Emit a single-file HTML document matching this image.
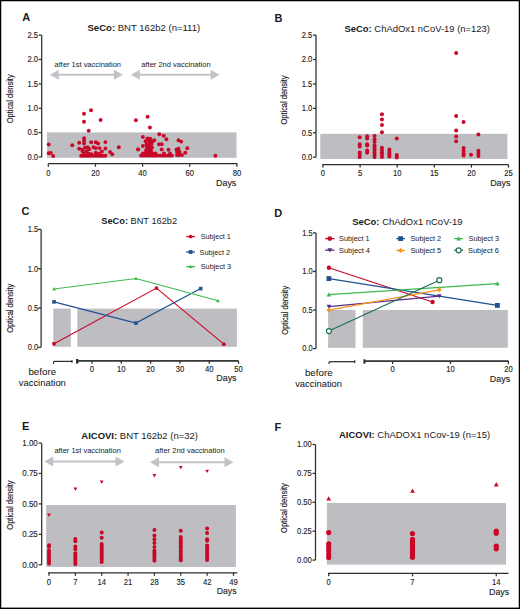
<!DOCTYPE html>
<html><head><meta charset="utf-8"><style>
html,body{margin:0;padding:0;background:#fff;}
body{width:520px;height:609px;overflow:hidden;position:relative;}
svg{position:absolute;left:0;top:0;font-family:"Liberation Sans", sans-serif;}
</style></head><body>
<svg width="520" height="609" viewBox="0 0 520 609">
<rect x="0" y="0" width="520" height="609" fill="#fff"/>
<text x="22.3" y="21.3" font-size="11" text-anchor="start" font-weight="bold" fill="#1a1a1a">A</text>
<text x="87.5" y="30.9" font-size="9.6" fill="#1a1a1a" textLength="112.7" lengthAdjust="spacingAndGlyphs"><tspan font-weight="bold">SeCo:</tspan> BNT 162b2 (n=111)</text>
<line x1="41.7" y1="35" x2="41.7" y2="157.2" stroke="#2e2e2e" stroke-width="1.25"/>
<line x1="38.7" y1="157.0" x2="41.7" y2="157.0" stroke="#2e2e2e" stroke-width="1.25"/>
<text x="38.0" y="159.8" font-size="8.7" text-anchor="end" font-weight="normal" fill="#1a1a1a" textLength="10.6" lengthAdjust="spacingAndGlyphs" stroke="#1a1a1a" stroke-width="0.12">0.0</text>
<line x1="38.7" y1="132.62" x2="41.7" y2="132.62" stroke="#2e2e2e" stroke-width="1.25"/>
<text x="38.0" y="135.42000000000002" font-size="8.7" text-anchor="end" font-weight="normal" fill="#1a1a1a" textLength="10.6" lengthAdjust="spacingAndGlyphs" stroke="#1a1a1a" stroke-width="0.12">0.5</text>
<line x1="38.7" y1="108.24000000000001" x2="41.7" y2="108.24000000000001" stroke="#2e2e2e" stroke-width="1.25"/>
<text x="38.0" y="111.04" font-size="8.7" text-anchor="end" font-weight="normal" fill="#1a1a1a" textLength="10.6" lengthAdjust="spacingAndGlyphs" stroke="#1a1a1a" stroke-width="0.12">1.0</text>
<line x1="38.7" y1="83.86" x2="41.7" y2="83.86" stroke="#2e2e2e" stroke-width="1.25"/>
<text x="38.0" y="86.66" font-size="8.7" text-anchor="end" font-weight="normal" fill="#1a1a1a" textLength="10.6" lengthAdjust="spacingAndGlyphs" stroke="#1a1a1a" stroke-width="0.12">1.5</text>
<line x1="38.7" y1="59.480000000000004" x2="41.7" y2="59.480000000000004" stroke="#2e2e2e" stroke-width="1.25"/>
<text x="38.0" y="62.28" font-size="8.7" text-anchor="end" font-weight="normal" fill="#1a1a1a" textLength="10.6" lengthAdjust="spacingAndGlyphs" stroke="#1a1a1a" stroke-width="0.12">2.0</text>
<line x1="38.7" y1="35.10000000000001" x2="41.7" y2="35.10000000000001" stroke="#2e2e2e" stroke-width="1.25"/>
<text x="38.0" y="37.900000000000006" font-size="8.7" text-anchor="end" font-weight="normal" fill="#1a1a1a" textLength="10.6" lengthAdjust="spacingAndGlyphs" stroke="#1a1a1a" stroke-width="0.12">2.5</text>
<text x="0" y="0" font-size="9.0" fill="#1a1a1a" text-anchor="middle" textLength="48.9" lengthAdjust="spacingAndGlyphs" stroke="#1a1a1a" stroke-width="0.15" transform="translate(13.0,98.85) rotate(-90)">Optical density</text>
<rect x="47" y="132.4" width="189.50" height="25.40" fill="#bebec2"/>
<line x1="48.3" y1="163.7" x2="237.3" y2="163.7" stroke="#2e2e2e" stroke-width="1.25"/>
<line x1="48.3" y1="163.7" x2="48.3" y2="166.7" stroke="#2e2e2e" stroke-width="1.25"/>
<text x="48.3" y="175.8" font-size="8.9" text-anchor="middle" font-weight="normal" fill="#1a1a1a" textLength="4.26" lengthAdjust="spacingAndGlyphs" stroke="#1a1a1a" stroke-width="0.12">0</text>
<line x1="95.44999999999999" y1="163.7" x2="95.44999999999999" y2="166.7" stroke="#2e2e2e" stroke-width="1.25"/>
<text x="95.44999999999999" y="175.8" font-size="8.9" text-anchor="middle" font-weight="normal" fill="#1a1a1a" textLength="8.51" lengthAdjust="spacingAndGlyphs" stroke="#1a1a1a" stroke-width="0.12">20</text>
<line x1="142.6" y1="163.7" x2="142.6" y2="166.7" stroke="#2e2e2e" stroke-width="1.25"/>
<text x="142.6" y="175.8" font-size="8.9" text-anchor="middle" font-weight="normal" fill="#1a1a1a" textLength="8.51" lengthAdjust="spacingAndGlyphs" stroke="#1a1a1a" stroke-width="0.12">40</text>
<line x1="189.75" y1="163.7" x2="189.75" y2="166.7" stroke="#2e2e2e" stroke-width="1.25"/>
<text x="189.75" y="175.8" font-size="8.9" text-anchor="middle" font-weight="normal" fill="#1a1a1a" textLength="8.51" lengthAdjust="spacingAndGlyphs" stroke="#1a1a1a" stroke-width="0.12">60</text>
<line x1="236.89999999999998" y1="163.7" x2="236.89999999999998" y2="166.7" stroke="#2e2e2e" stroke-width="1.25"/>
<text x="236.89999999999998" y="175.8" font-size="8.9" text-anchor="middle" font-weight="normal" fill="#1a1a1a" textLength="8.51" lengthAdjust="spacingAndGlyphs" stroke="#1a1a1a" stroke-width="0.12">80</text>
<text x="236.3" y="185.8" font-size="9.9" text-anchor="end" font-weight="normal" fill="#1a1a1a" textLength="20.3" lengthAdjust="spacingAndGlyphs" stroke="#1a1a1a" stroke-width="0.12">Days</text>
<text x="54.6" y="66.5" font-size="7.4" text-anchor="start" font-weight="normal" fill="#1a1a1a" textLength="66.4" lengthAdjust="spacingAndGlyphs">after 1st vaccination</text>
<path d="M49.8,74.8L58.8,69.8L58.8,73.8L113.9,73.8L113.9,69.8L122.9,74.8L113.9,79.8L113.9,75.8L58.8,75.8L58.8,79.8Z" fill="#c2c2c8"/>
<text x="141.3" y="66.5" font-size="7.4" text-anchor="start" font-weight="normal" fill="#1a1a1a" textLength="69.3" lengthAdjust="spacingAndGlyphs">after 2nd vaccination</text>
<path d="M130.8,74.8L139.8,69.8L139.8,73.8L210.6,73.8L210.6,69.8L219.6,74.8L210.6,79.8L210.6,75.8L139.8,75.8L139.8,79.8Z" fill="#c2c2c8"/>
<circle cx="91.00" cy="110.20" r="1.95" fill="#c90828"/>
<circle cx="84.00" cy="113.80" r="1.95" fill="#c90828"/>
<circle cx="84.00" cy="121.70" r="1.95" fill="#c90828"/>
<circle cx="100.60" cy="120.00" r="1.95" fill="#c90828"/>
<circle cx="135.90" cy="120.20" r="1.95" fill="#c90828"/>
<circle cx="147.60" cy="116.80" r="1.95" fill="#c90828"/>
<circle cx="149.90" cy="127.50" r="1.95" fill="#c90828"/>
<circle cx="88.70" cy="130.80" r="1.95" fill="#c90828"/>
<circle cx="48.70" cy="144.50" r="1.95" fill="#c90828"/>
<circle cx="48.70" cy="153.30" r="1.95" fill="#c90828"/>
<circle cx="50.80" cy="152.90" r="1.95" fill="#c90828"/>
<circle cx="53.20" cy="156.00" r="1.95" fill="#c90828"/>
<circle cx="72.30" cy="145.20" r="1.95" fill="#c90828"/>
<circle cx="84.10" cy="138.20" r="1.95" fill="#c90828"/>
<circle cx="84.10" cy="140.80" r="1.95" fill="#c90828"/>
<circle cx="84.10" cy="143.50" r="1.95" fill="#c90828"/>
<circle cx="79.20" cy="142.70" r="1.95" fill="#c90828"/>
<circle cx="91.20" cy="142.30" r="1.95" fill="#c90828"/>
<circle cx="95.80" cy="142.30" r="1.95" fill="#c90828"/>
<circle cx="98.10" cy="143.50" r="1.95" fill="#c90828"/>
<circle cx="105.40" cy="142.10" r="1.95" fill="#c90828"/>
<circle cx="79.20" cy="148.80" r="1.95" fill="#c90828"/>
<circle cx="82.30" cy="149.60" r="1.95" fill="#c90828"/>
<circle cx="85.00" cy="147.70" r="1.95" fill="#c90828"/>
<circle cx="87.70" cy="147.30" r="1.95" fill="#c90828"/>
<circle cx="89.20" cy="149.20" r="1.95" fill="#c90828"/>
<circle cx="93.50" cy="147.30" r="1.95" fill="#c90828"/>
<circle cx="95.80" cy="148.10" r="1.95" fill="#c90828"/>
<circle cx="99.60" cy="148.10" r="1.95" fill="#c90828"/>
<circle cx="105.40" cy="148.50" r="1.95" fill="#c90828"/>
<circle cx="101.90" cy="151.50" r="1.95" fill="#c90828"/>
<circle cx="110.00" cy="151.90" r="1.95" fill="#c90828"/>
<circle cx="112.30" cy="154.20" r="1.95" fill="#c90828"/>
<circle cx="95.80" cy="152.70" r="1.95" fill="#c90828"/>
<circle cx="82.70" cy="151.50" r="1.95" fill="#c90828"/>
<circle cx="86.50" cy="151.50" r="1.95" fill="#c90828"/>
<circle cx="118.80" cy="147.30" r="1.95" fill="#c90828"/>
<circle cx="138.00" cy="149.40" r="1.95" fill="#c90828"/>
<circle cx="215.40" cy="155.80" r="1.95" fill="#c90828"/>
<circle cx="159.30" cy="134.30" r="1.95" fill="#c90828"/>
<circle cx="163.70" cy="135.70" r="1.95" fill="#c90828"/>
<circle cx="166.40" cy="139.30" r="1.95" fill="#c90828"/>
<circle cx="142.90" cy="136.90" r="1.95" fill="#c90828"/>
<circle cx="150.30" cy="138.60" r="1.95" fill="#c90828"/>
<circle cx="154.30" cy="140.30" r="1.95" fill="#c90828"/>
<circle cx="145.60" cy="141.30" r="1.95" fill="#c90828"/>
<circle cx="148.90" cy="141.10" r="1.95" fill="#c90828"/>
<circle cx="159.00" cy="144.30" r="1.95" fill="#c90828"/>
<circle cx="161.70" cy="144.30" r="1.95" fill="#c90828"/>
<circle cx="142.90" cy="146.00" r="1.95" fill="#c90828"/>
<circle cx="138.20" cy="149.40" r="1.95" fill="#c90828"/>
<circle cx="161.70" cy="149.40" r="1.95" fill="#c90828"/>
<circle cx="168.50" cy="149.80" r="1.95" fill="#c90828"/>
<circle cx="178.50" cy="140.30" r="1.95" fill="#c90828"/>
<circle cx="181.20" cy="141.60" r="1.95" fill="#c90828"/>
<circle cx="178.50" cy="148.70" r="1.95" fill="#c90828"/>
<circle cx="187.30" cy="148.30" r="1.95" fill="#c90828"/>
<circle cx="185.30" cy="152.80" r="1.95" fill="#c90828"/>
<circle cx="81.20" cy="155.80" r="1.95" fill="#c90828"/>
<circle cx="83.50" cy="155.80" r="1.95" fill="#c90828"/>
<circle cx="85.80" cy="155.80" r="1.95" fill="#c90828"/>
<circle cx="88.10" cy="155.80" r="1.95" fill="#c90828"/>
<circle cx="90.40" cy="155.80" r="1.95" fill="#c90828"/>
<circle cx="93.00" cy="155.80" r="1.95" fill="#c90828"/>
<circle cx="95.80" cy="155.80" r="1.95" fill="#c90828"/>
<circle cx="98.10" cy="155.80" r="1.95" fill="#c90828"/>
<circle cx="100.40" cy="155.80" r="1.95" fill="#c90828"/>
<circle cx="102.70" cy="155.80" r="1.95" fill="#c90828"/>
<circle cx="105.40" cy="155.80" r="1.95" fill="#c90828"/>
<circle cx="84.50" cy="153.60" r="1.95" fill="#c90828"/>
<circle cx="88.80" cy="153.80" r="1.95" fill="#c90828"/>
<circle cx="99.20" cy="153.80" r="1.95" fill="#c90828"/>
<circle cx="91.50" cy="154.20" r="1.95" fill="#c90828"/>
<circle cx="141.00" cy="155.60" r="1.95" fill="#c90828"/>
<circle cx="143.20" cy="155.60" r="1.95" fill="#c90828"/>
<circle cx="145.40" cy="155.60" r="1.95" fill="#c90828"/>
<circle cx="147.60" cy="155.60" r="1.95" fill="#c90828"/>
<circle cx="149.80" cy="155.60" r="1.95" fill="#c90828"/>
<circle cx="152.00" cy="155.60" r="1.95" fill="#c90828"/>
<circle cx="154.20" cy="155.60" r="1.95" fill="#c90828"/>
<circle cx="156.40" cy="155.60" r="1.95" fill="#c90828"/>
<circle cx="158.60" cy="155.60" r="1.95" fill="#c90828"/>
<circle cx="160.80" cy="155.60" r="1.95" fill="#c90828"/>
<circle cx="163.00" cy="155.60" r="1.95" fill="#c90828"/>
<circle cx="165.20" cy="155.60" r="1.95" fill="#c90828"/>
<circle cx="167.40" cy="155.60" r="1.95" fill="#c90828"/>
<circle cx="169.60" cy="155.60" r="1.95" fill="#c90828"/>
<circle cx="172.00" cy="155.60" r="1.95" fill="#c90828"/>
<circle cx="143.00" cy="153.40" r="1.95" fill="#c90828"/>
<circle cx="145.50" cy="153.40" r="1.95" fill="#c90828"/>
<circle cx="148.00" cy="153.40" r="1.95" fill="#c90828"/>
<circle cx="150.50" cy="153.40" r="1.95" fill="#c90828"/>
<circle cx="153.00" cy="153.40" r="1.95" fill="#c90828"/>
<circle cx="155.50" cy="153.40" r="1.95" fill="#c90828"/>
<circle cx="164.00" cy="153.40" r="1.95" fill="#c90828"/>
<circle cx="170.00" cy="153.40" r="1.95" fill="#c90828"/>
<circle cx="146.00" cy="150.50" r="1.95" fill="#c90828"/>
<circle cx="148.50" cy="150.50" r="1.95" fill="#c90828"/>
<circle cx="151.00" cy="150.50" r="1.95" fill="#c90828"/>
<circle cx="147.00" cy="147.50" r="1.95" fill="#c90828"/>
<circle cx="149.50" cy="147.50" r="1.95" fill="#c90828"/>
<circle cx="152.00" cy="147.50" r="1.95" fill="#c90828"/>
<circle cx="146.50" cy="144.50" r="1.95" fill="#c90828"/>
<circle cx="149.00" cy="144.50" r="1.95" fill="#c90828"/>
<circle cx="151.50" cy="144.00" r="1.95" fill="#c90828"/>
<circle cx="150.00" cy="141.50" r="1.95" fill="#c90828"/>
<circle cx="152.50" cy="141.50" r="1.95" fill="#c90828"/>
<circle cx="147.50" cy="138.50" r="1.95" fill="#c90828"/>
<circle cx="177.00" cy="152.00" r="1.95" fill="#c90828"/>
<circle cx="179.50" cy="152.00" r="1.95" fill="#c90828"/>
<circle cx="177.00" cy="155.00" r="1.95" fill="#c90828"/>
<circle cx="179.50" cy="155.00" r="1.95" fill="#c90828"/>
<circle cx="182.00" cy="155.00" r="1.95" fill="#c90828"/>
<circle cx="176.50" cy="149.50" r="1.95" fill="#c90828"/>
<text x="274.4" y="21.5" font-size="11" text-anchor="start" font-weight="bold" fill="#1a1a1a">B</text>
<text x="344.5" y="32.2" font-size="9.6" fill="#1a1a1a" textLength="145.4" lengthAdjust="spacingAndGlyphs"><tspan font-weight="bold">SeCo:</tspan> ChAdOx1 nCoV-19 (n=123)</text>
<line x1="316.0" y1="35" x2="316.0" y2="157.2" stroke="#2e2e2e" stroke-width="1.25"/>
<line x1="313.0" y1="157.2" x2="316.0" y2="157.2" stroke="#2e2e2e" stroke-width="1.25"/>
<text x="312.3" y="160.0" font-size="8.7" text-anchor="end" font-weight="normal" fill="#1a1a1a" textLength="10.6" lengthAdjust="spacingAndGlyphs" stroke="#1a1a1a" stroke-width="0.12">0.0</text>
<line x1="313.0" y1="132.77999999999997" x2="316.0" y2="132.77999999999997" stroke="#2e2e2e" stroke-width="1.25"/>
<text x="312.3" y="135.57999999999998" font-size="8.7" text-anchor="end" font-weight="normal" fill="#1a1a1a" textLength="10.6" lengthAdjust="spacingAndGlyphs" stroke="#1a1a1a" stroke-width="0.12">0.5</text>
<line x1="313.0" y1="108.35999999999999" x2="316.0" y2="108.35999999999999" stroke="#2e2e2e" stroke-width="1.25"/>
<text x="312.3" y="111.15999999999998" font-size="8.7" text-anchor="end" font-weight="normal" fill="#1a1a1a" textLength="10.6" lengthAdjust="spacingAndGlyphs" stroke="#1a1a1a" stroke-width="0.12">1.0</text>
<line x1="313.0" y1="83.93999999999998" x2="316.0" y2="83.93999999999998" stroke="#2e2e2e" stroke-width="1.25"/>
<text x="312.3" y="86.73999999999998" font-size="8.7" text-anchor="end" font-weight="normal" fill="#1a1a1a" textLength="10.6" lengthAdjust="spacingAndGlyphs" stroke="#1a1a1a" stroke-width="0.12">1.5</text>
<line x1="313.0" y1="59.51999999999998" x2="316.0" y2="59.51999999999998" stroke="#2e2e2e" stroke-width="1.25"/>
<text x="312.3" y="62.31999999999998" font-size="8.7" text-anchor="end" font-weight="normal" fill="#1a1a1a" textLength="10.6" lengthAdjust="spacingAndGlyphs" stroke="#1a1a1a" stroke-width="0.12">2.0</text>
<line x1="313.0" y1="35.09999999999998" x2="316.0" y2="35.09999999999998" stroke="#2e2e2e" stroke-width="1.25"/>
<text x="312.3" y="37.89999999999998" font-size="8.7" text-anchor="end" font-weight="normal" fill="#1a1a1a" textLength="10.6" lengthAdjust="spacingAndGlyphs" stroke="#1a1a1a" stroke-width="0.12">2.5</text>
<text x="0" y="0" font-size="9.0" fill="#1a1a1a" text-anchor="middle" textLength="49.1" lengthAdjust="spacingAndGlyphs" stroke="#1a1a1a" stroke-width="0.15" transform="translate(287.0,100.05) rotate(-90)">Optical density</text>
<rect x="320.3" y="133.8" width="187.10" height="25.20" fill="#bebec2"/>
<line x1="322.4" y1="164.6" x2="508.5" y2="164.6" stroke="#2e2e2e" stroke-width="1.25"/>
<line x1="323.0" y1="164.6" x2="323.0" y2="167.6" stroke="#2e2e2e" stroke-width="1.25"/>
<text x="323.0" y="176.0" font-size="8.9" text-anchor="middle" font-weight="normal" fill="#1a1a1a" textLength="4.26" lengthAdjust="spacingAndGlyphs" stroke="#1a1a1a" stroke-width="0.12">0</text>
<line x1="360.1" y1="164.6" x2="360.1" y2="167.6" stroke="#2e2e2e" stroke-width="1.25"/>
<text x="360.1" y="176.0" font-size="8.9" text-anchor="middle" font-weight="normal" fill="#1a1a1a" textLength="4.26" lengthAdjust="spacingAndGlyphs" stroke="#1a1a1a" stroke-width="0.12">5</text>
<line x1="397.2" y1="164.6" x2="397.2" y2="167.6" stroke="#2e2e2e" stroke-width="1.25"/>
<text x="397.2" y="176.0" font-size="8.9" text-anchor="middle" font-weight="normal" fill="#1a1a1a" textLength="8.51" lengthAdjust="spacingAndGlyphs" stroke="#1a1a1a" stroke-width="0.12">10</text>
<line x1="434.3" y1="164.6" x2="434.3" y2="167.6" stroke="#2e2e2e" stroke-width="1.25"/>
<text x="434.3" y="176.0" font-size="8.9" text-anchor="middle" font-weight="normal" fill="#1a1a1a" textLength="8.51" lengthAdjust="spacingAndGlyphs" stroke="#1a1a1a" stroke-width="0.12">15</text>
<line x1="471.4" y1="164.6" x2="471.4" y2="167.6" stroke="#2e2e2e" stroke-width="1.25"/>
<text x="471.4" y="176.0" font-size="8.9" text-anchor="middle" font-weight="normal" fill="#1a1a1a" textLength="8.51" lengthAdjust="spacingAndGlyphs" stroke="#1a1a1a" stroke-width="0.12">20</text>
<line x1="508.5" y1="164.6" x2="508.5" y2="167.6" stroke="#2e2e2e" stroke-width="1.25"/>
<text x="508.5" y="176.0" font-size="8.9" text-anchor="middle" font-weight="normal" fill="#1a1a1a" textLength="8.51" lengthAdjust="spacingAndGlyphs" stroke="#1a1a1a" stroke-width="0.12">25</text>
<text x="510.5" y="186.2" font-size="9.9" text-anchor="end" font-weight="normal" fill="#1a1a1a" textLength="20.3" lengthAdjust="spacingAndGlyphs" stroke="#1a1a1a" stroke-width="0.12">Days</text>
<circle cx="359.70" cy="137.30" r="2.0" fill="#c90828"/>
<circle cx="359.70" cy="144.30" r="2.0" fill="#c90828"/>
<circle cx="359.70" cy="146.60" r="2.0" fill="#c90828"/>
<circle cx="359.70" cy="152.40" r="2.0" fill="#c90828"/>
<circle cx="359.70" cy="154.70" r="2.0" fill="#c90828"/>
<circle cx="359.70" cy="157.00" r="2.0" fill="#c90828"/>
<circle cx="367.12" cy="136.20" r="2.0" fill="#c90828"/>
<circle cx="367.12" cy="138.50" r="2.0" fill="#c90828"/>
<circle cx="367.12" cy="144.30" r="2.0" fill="#c90828"/>
<circle cx="367.12" cy="145.40" r="2.0" fill="#c90828"/>
<circle cx="367.12" cy="150.50" r="2.0" fill="#c90828"/>
<circle cx="367.12" cy="152.80" r="2.0" fill="#c90828"/>
<circle cx="374.54" cy="136.00" r="2.0" fill="#c90828"/>
<circle cx="374.54" cy="139.60" r="2.0" fill="#c90828"/>
<circle cx="374.54" cy="142.00" r="2.0" fill="#c90828"/>
<circle cx="374.54" cy="145.40" r="2.0" fill="#c90828"/>
<circle cx="374.54" cy="147.70" r="2.0" fill="#c90828"/>
<circle cx="374.54" cy="150.00" r="2.0" fill="#c90828"/>
<circle cx="374.54" cy="152.40" r="2.0" fill="#c90828"/>
<circle cx="374.54" cy="154.70" r="2.0" fill="#c90828"/>
<circle cx="374.54" cy="157.00" r="2.0" fill="#c90828"/>
<circle cx="381.96" cy="114.20" r="2.0" fill="#c90828"/>
<circle cx="381.96" cy="119.60" r="2.0" fill="#c90828"/>
<circle cx="381.96" cy="125.10" r="2.0" fill="#c90828"/>
<circle cx="381.96" cy="132.30" r="2.0" fill="#c90828"/>
<circle cx="381.96" cy="147.70" r="2.0" fill="#c90828"/>
<circle cx="381.96" cy="150.00" r="2.0" fill="#c90828"/>
<circle cx="381.96" cy="152.40" r="2.0" fill="#c90828"/>
<circle cx="381.96" cy="154.70" r="2.0" fill="#c90828"/>
<circle cx="381.96" cy="157.00" r="2.0" fill="#c90828"/>
<circle cx="389.38" cy="149.60" r="2.0" fill="#c90828"/>
<circle cx="389.38" cy="151.90" r="2.0" fill="#c90828"/>
<circle cx="389.38" cy="154.20" r="2.0" fill="#c90828"/>
<circle cx="389.38" cy="156.50" r="2.0" fill="#c90828"/>
<circle cx="396.80" cy="138.50" r="2.0" fill="#c90828"/>
<circle cx="396.80" cy="155.10" r="2.0" fill="#c90828"/>
<circle cx="396.80" cy="157.40" r="2.0" fill="#c90828"/>
<circle cx="456.16" cy="53.10" r="2.0" fill="#c90828"/>
<circle cx="456.16" cy="116.10" r="2.0" fill="#c90828"/>
<circle cx="456.16" cy="130.60" r="2.0" fill="#c90828"/>
<circle cx="456.16" cy="136.60" r="2.0" fill="#c90828"/>
<circle cx="456.16" cy="141.30" r="2.0" fill="#c90828"/>
<circle cx="463.58" cy="121.90" r="2.0" fill="#c90828"/>
<circle cx="463.58" cy="148.10" r="2.0" fill="#c90828"/>
<circle cx="463.58" cy="150.80" r="2.0" fill="#c90828"/>
<circle cx="463.58" cy="153.40" r="2.0" fill="#c90828"/>
<circle cx="463.58" cy="155.50" r="2.0" fill="#c90828"/>
<circle cx="471.00" cy="154.70" r="2.0" fill="#c90828"/>
<circle cx="478.42" cy="134.50" r="2.0" fill="#c90828"/>
<circle cx="478.42" cy="150.80" r="2.0" fill="#c90828"/>
<circle cx="478.42" cy="153.40" r="2.0" fill="#c90828"/>
<circle cx="478.42" cy="156.00" r="2.0" fill="#c90828"/>
<text x="21.5" y="215" font-size="11" text-anchor="start" font-weight="bold" fill="#1a1a1a">C</text>
<text x="101.3" y="223.6" font-size="9.6" fill="#1a1a1a" textLength="75.8" lengthAdjust="spacingAndGlyphs"><tspan font-weight="bold">SeCo:</tspan> BNT 162b2</text>
<line x1="41.1" y1="229.4" x2="41.1" y2="347.3" stroke="#2e2e2e" stroke-width="1.25"/>
<line x1="38.1" y1="347.3" x2="41.1" y2="347.3" stroke="#2e2e2e" stroke-width="1.25"/>
<text x="38.2" y="350.1" font-size="8.7" text-anchor="end" font-weight="normal" fill="#1a1a1a" textLength="10.4" lengthAdjust="spacingAndGlyphs" stroke="#1a1a1a" stroke-width="0.12">0.0</text>
<line x1="38.1" y1="308.0" x2="41.1" y2="308.0" stroke="#2e2e2e" stroke-width="1.25"/>
<text x="38.2" y="310.8" font-size="8.7" text-anchor="end" font-weight="normal" fill="#1a1a1a" textLength="10.4" lengthAdjust="spacingAndGlyphs" stroke="#1a1a1a" stroke-width="0.12">0.5</text>
<line x1="38.1" y1="268.70000000000005" x2="41.1" y2="268.70000000000005" stroke="#2e2e2e" stroke-width="1.25"/>
<text x="38.2" y="271.50000000000006" font-size="8.7" text-anchor="end" font-weight="normal" fill="#1a1a1a" textLength="10.4" lengthAdjust="spacingAndGlyphs" stroke="#1a1a1a" stroke-width="0.12">1.0</text>
<line x1="38.1" y1="229.40000000000003" x2="41.1" y2="229.40000000000003" stroke="#2e2e2e" stroke-width="1.25"/>
<text x="38.2" y="232.20000000000005" font-size="8.7" text-anchor="end" font-weight="normal" fill="#1a1a1a" textLength="10.4" lengthAdjust="spacingAndGlyphs" stroke="#1a1a1a" stroke-width="0.12">1.5</text>
<text x="0" y="0" font-size="9.0" fill="#1a1a1a" text-anchor="middle" textLength="49.0" lengthAdjust="spacingAndGlyphs" stroke="#1a1a1a" stroke-width="0.15" transform="translate(12.6,308.3) rotate(-90)">Optical density</text>
<rect x="53.3" y="308.6" width="17.50" height="38.20" fill="#bebec2"/>
<rect x="77.3" y="308.6" width="159.60" height="38.20" fill="#bebec2"/>
<line x1="53.6" y1="361.4" x2="72.0" y2="361.4" stroke="#2e2e2e" stroke-width="1.25"/>
<line x1="53.6" y1="361.4" x2="53.6" y2="363.8" stroke="#2e2e2e" stroke-width="1.25"/>
<line x1="72.0" y1="360.0" x2="72.0" y2="362.8" stroke="#2e2e2e" stroke-width="1.25"/>
<line x1="76.9" y1="360.8" x2="238.5" y2="360.8" stroke="#2e2e2e" stroke-width="1.25"/>
<rect x="76.0" y="359.0" width="2.40" height="4.60" fill="#2e2e2e"/>
<line x1="76.9" y1="360.8" x2="238.5" y2="360.8" stroke="#2e2e2e" stroke-width="1.25"/>
<line x1="92.0" y1="360.8" x2="92.0" y2="363.8" stroke="#2e2e2e" stroke-width="1.25"/>
<text x="92.0" y="372.40000000000003" font-size="8.9" text-anchor="middle" font-weight="normal" fill="#1a1a1a" textLength="4.26" lengthAdjust="spacingAndGlyphs" stroke="#1a1a1a" stroke-width="0.12">0</text>
<line x1="121.3" y1="360.8" x2="121.3" y2="363.8" stroke="#2e2e2e" stroke-width="1.25"/>
<text x="121.3" y="372.40000000000003" font-size="8.9" text-anchor="middle" font-weight="normal" fill="#1a1a1a" textLength="8.51" lengthAdjust="spacingAndGlyphs" stroke="#1a1a1a" stroke-width="0.12">10</text>
<line x1="150.6" y1="360.8" x2="150.6" y2="363.8" stroke="#2e2e2e" stroke-width="1.25"/>
<text x="150.6" y="372.40000000000003" font-size="8.9" text-anchor="middle" font-weight="normal" fill="#1a1a1a" textLength="8.51" lengthAdjust="spacingAndGlyphs" stroke="#1a1a1a" stroke-width="0.12">20</text>
<line x1="179.9" y1="360.8" x2="179.9" y2="363.8" stroke="#2e2e2e" stroke-width="1.25"/>
<text x="179.9" y="372.40000000000003" font-size="8.9" text-anchor="middle" font-weight="normal" fill="#1a1a1a" textLength="8.51" lengthAdjust="spacingAndGlyphs" stroke="#1a1a1a" stroke-width="0.12">30</text>
<line x1="209.2" y1="360.8" x2="209.2" y2="363.8" stroke="#2e2e2e" stroke-width="1.25"/>
<text x="209.2" y="372.40000000000003" font-size="8.9" text-anchor="middle" font-weight="normal" fill="#1a1a1a" textLength="8.51" lengthAdjust="spacingAndGlyphs" stroke="#1a1a1a" stroke-width="0.12">40</text>
<line x1="238.5" y1="360.8" x2="238.5" y2="363.8" stroke="#2e2e2e" stroke-width="1.25"/>
<text x="238.5" y="372.40000000000003" font-size="8.9" text-anchor="middle" font-weight="normal" fill="#1a1a1a" textLength="8.51" lengthAdjust="spacingAndGlyphs" stroke="#1a1a1a" stroke-width="0.12">50</text>
<text x="236.6" y="381.4" font-size="9.9" text-anchor="end" font-weight="normal" fill="#1a1a1a" textLength="20.4" lengthAdjust="spacingAndGlyphs" stroke="#1a1a1a" stroke-width="0.12">Days</text>
<text x="42.3" y="374.6" font-size="9.4" text-anchor="middle" font-weight="normal" fill="#1a1a1a" textLength="27.7" lengthAdjust="spacingAndGlyphs" stroke="#1a1a1a" stroke-width="0.05">before</text>
<text x="42.3" y="385.6" font-size="9.4" text-anchor="middle" font-weight="normal" fill="#1a1a1a" textLength="47.1" lengthAdjust="spacingAndGlyphs" stroke="#1a1a1a" stroke-width="0.05">vaccination</text>
<path d="M54.00,343.76L156.46,288.11L223.85,344.16" fill="none" stroke="#c90828" stroke-width="1.15"/>
<circle cx="54.00" cy="343.76" r="1.9" fill="#c90828"/>
<circle cx="156.46" cy="288.11" r="1.9" fill="#c90828"/>
<circle cx="223.85" cy="344.16" r="1.9" fill="#c90828"/>
<path d="M54.00,301.87L135.95,323.09L200.70,288.59" fill="none" stroke="#1f5090" stroke-width="1.15"/>
<rect x="52.20" y="300.07" width="3.6" height="3.6" fill="#1f5090"/>
<rect x="134.15" y="321.29" width="3.6" height="3.6" fill="#1f5090"/>
<rect x="198.90" y="286.79" width="3.6" height="3.6" fill="#1f5090"/>
<path d="M54.00,288.98L135.95,278.53L217.99,300.77" fill="none" stroke="#3dba4a" stroke-width="1.15"/>
<path d="M52.10,290.50L55.90,290.50L54.00,287.08Z" fill="#3dba4a"/>
<path d="M134.05,280.05L137.85,280.05L135.95,276.63Z" fill="#3dba4a"/>
<path d="M216.09,302.29L219.89,302.29L217.99,298.87Z" fill="#3dba4a"/>
<line x1="186.2" y1="236.6" x2="195" y2="236.6" stroke="#c90828" stroke-width="1.3"/>
<circle cx="190.60" cy="236.60" r="1.9" fill="#c90828"/>
<text x="200.7" y="239.35" font-size="7.7" text-anchor="start" font-weight="normal" fill="#1a1a1a" textLength="30.1" lengthAdjust="spacingAndGlyphs">Subject 1</text>
<line x1="186.2" y1="252.0" x2="195" y2="252.0" stroke="#1f5090" stroke-width="1.3"/>
<rect x="188.70" y="250.10" width="3.8" height="3.8" fill="#1f5090"/>
<text x="199.6" y="254.75" font-size="7.7" text-anchor="start" font-weight="normal" fill="#1a1a1a" textLength="30.4" lengthAdjust="spacingAndGlyphs">Subject 2</text>
<line x1="186.2" y1="266.6" x2="195" y2="266.6" stroke="#3dba4a" stroke-width="1.3"/>
<path d="M188.70,268.12L192.50,268.12L190.60,264.70Z" fill="#3dba4a"/>
<text x="200.7" y="269.35" font-size="7.7" text-anchor="start" font-weight="normal" fill="#1a1a1a" textLength="30.5" lengthAdjust="spacingAndGlyphs">Subject 3</text>
<text x="274.2" y="216.9" font-size="11" text-anchor="start" font-weight="bold" fill="#1a1a1a">D</text>
<text x="352.2" y="224.8" font-size="9.6" fill="#1a1a1a" textLength="110.4" lengthAdjust="spacingAndGlyphs"><tspan font-weight="bold">SeCo:</tspan> ChAdOx1 nCoV-19</text>
<line x1="316.0" y1="232.9" x2="316.0" y2="348.6" stroke="#2e2e2e" stroke-width="1.25"/>
<line x1="313.0" y1="348.6" x2="316.0" y2="348.6" stroke="#2e2e2e" stroke-width="1.25"/>
<text x="312.7" y="351.40000000000003" font-size="8.7" text-anchor="end" font-weight="normal" fill="#1a1a1a" textLength="10.4" lengthAdjust="spacingAndGlyphs" stroke="#1a1a1a" stroke-width="0.12">0.0</text>
<line x1="313.0" y1="310.03000000000003" x2="316.0" y2="310.03000000000003" stroke="#2e2e2e" stroke-width="1.25"/>
<text x="312.7" y="312.83000000000004" font-size="8.7" text-anchor="end" font-weight="normal" fill="#1a1a1a" textLength="10.4" lengthAdjust="spacingAndGlyphs" stroke="#1a1a1a" stroke-width="0.12">0.5</text>
<line x1="313.0" y1="271.46000000000004" x2="316.0" y2="271.46000000000004" stroke="#2e2e2e" stroke-width="1.25"/>
<text x="312.7" y="274.26000000000005" font-size="8.7" text-anchor="end" font-weight="normal" fill="#1a1a1a" textLength="10.4" lengthAdjust="spacingAndGlyphs" stroke="#1a1a1a" stroke-width="0.12">1.0</text>
<line x1="313.0" y1="232.89000000000001" x2="316.0" y2="232.89000000000001" stroke="#2e2e2e" stroke-width="1.25"/>
<text x="312.7" y="235.69000000000003" font-size="8.7" text-anchor="end" font-weight="normal" fill="#1a1a1a" textLength="10.4" lengthAdjust="spacingAndGlyphs" stroke="#1a1a1a" stroke-width="0.12">1.5</text>
<text x="0" y="0" font-size="9.0" fill="#1a1a1a" text-anchor="middle" textLength="48.9" lengthAdjust="spacingAndGlyphs" stroke="#1a1a1a" stroke-width="0.15" transform="translate(287.5,310.35) rotate(-90)">Optical density</text>
<rect x="328.1" y="310.0" width="27.40" height="37.80" fill="#bebec2"/>
<rect x="362.8" y="310.0" width="145.00" height="37.80" fill="#bebec2"/>
<line x1="329.1" y1="361.7" x2="354.7" y2="361.7" stroke="#2e2e2e" stroke-width="1.25"/>
<line x1="329.1" y1="361.7" x2="329.1" y2="364.0" stroke="#2e2e2e" stroke-width="1.25"/>
<line x1="354.7" y1="360.3" x2="354.7" y2="363.0" stroke="#2e2e2e" stroke-width="1.25"/>
<line x1="364.5" y1="361.1" x2="508.5" y2="361.1" stroke="#2e2e2e" stroke-width="1.25"/>
<rect x="363.4" y="359.3" width="2.00" height="4.40" fill="#2e2e2e"/>
<line x1="364.5" y1="361.1" x2="508.5" y2="361.1" stroke="#2e2e2e" stroke-width="1.25"/>
<line x1="392.6" y1="361.1" x2="392.6" y2="364.1" stroke="#2e2e2e" stroke-width="1.25"/>
<text x="392.6" y="372.1" font-size="8.9" text-anchor="middle" font-weight="normal" fill="#1a1a1a" textLength="4.26" lengthAdjust="spacingAndGlyphs" stroke="#1a1a1a" stroke-width="0.12">0</text>
<line x1="450.5" y1="361.1" x2="450.5" y2="364.1" stroke="#2e2e2e" stroke-width="1.25"/>
<text x="450.5" y="372.1" font-size="8.9" text-anchor="middle" font-weight="normal" fill="#1a1a1a" textLength="8.51" lengthAdjust="spacingAndGlyphs" stroke="#1a1a1a" stroke-width="0.12">10</text>
<line x1="508.40000000000003" y1="361.1" x2="508.40000000000003" y2="364.1" stroke="#2e2e2e" stroke-width="1.25"/>
<text x="508.40000000000003" y="372.1" font-size="8.9" text-anchor="middle" font-weight="normal" fill="#1a1a1a" textLength="8.51" lengthAdjust="spacingAndGlyphs" stroke="#1a1a1a" stroke-width="0.12">20</text>
<text x="510.2" y="381.6" font-size="9.9" text-anchor="end" font-weight="normal" fill="#1a1a1a" textLength="20.4" lengthAdjust="spacingAndGlyphs" stroke="#1a1a1a" stroke-width="0.12">Days</text>
<text x="318.8" y="375.9" font-size="9.4" text-anchor="middle" font-weight="normal" fill="#1a1a1a" textLength="27.7" lengthAdjust="spacingAndGlyphs" stroke="#1a1a1a" stroke-width="0.05">before</text>
<text x="318.6" y="386.5" font-size="9.4" text-anchor="middle" font-weight="normal" fill="#1a1a1a" textLength="46.9" lengthAdjust="spacingAndGlyphs" stroke="#1a1a1a" stroke-width="0.05">vaccination</text>
<path d="M328.90,267.76L432.55,301.93" fill="none" stroke="#c90828" stroke-width="1.15"/>
<circle cx="328.90" cy="267.76" r="2.2" fill="#c90828"/>
<circle cx="432.55" cy="301.93" r="2.2" fill="#c90828"/>
<path d="M328.90,278.56L497.40,305.40" fill="none" stroke="#1f5090" stroke-width="1.15"/>
<rect x="326.50" y="276.16" width="4.8" height="4.8" fill="#1f5090"/>
<rect x="495.00" y="303.00" width="4.8" height="4.8" fill="#1f5090"/>
<path d="M328.90,294.60L497.40,283.65" fill="none" stroke="#3dba4a" stroke-width="1.15"/>
<path d="M326.60,296.44L331.20,296.44L328.90,292.30Z" fill="#3dba4a"/>
<path d="M495.10,285.49L499.70,285.49L497.40,281.35Z" fill="#3dba4a"/>
<path d="M328.90,306.64L439.33,296.07" fill="none" stroke="#5b2c86" stroke-width="1.15"/>
<path d="M326.60,304.80L331.20,304.80L328.90,308.94Z" fill="#5b2c86"/>
<path d="M437.03,294.23L441.63,294.23L439.33,298.37Z" fill="#5b2c86"/>
<path d="M328.90,310.11L439.33,289.82" fill="none" stroke="#f7941d" stroke-width="1.15"/>
<path d="M328.9,307.64L331.37,310.10714L328.9,312.58L326.43,310.10714Z" fill="#f7941d"/>
<path d="M439.3253,287.35L441.80,289.81932L439.3253,292.29L436.86,289.81932Z" fill="#f7941d"/>
<path d="M328.90,331.09L439.33,280.18" fill="none" stroke="#1b6e56" stroke-width="1.15"/>
<circle cx="328.90" cy="331.09" r="2.5" fill="#fff" stroke="#1b6e56" stroke-width="1.2"/>
<circle cx="439.33" cy="280.18" r="2.5" fill="#fff" stroke="#1b6e56" stroke-width="1.2"/>
<line x1="325.2" y1="238.6" x2="334.5" y2="238.6" stroke="#c90828" stroke-width="1.3"/>
<circle cx="329.85" cy="238.60" r="2.4" fill="#c90828"/>
<text x="339.0" y="241.35" font-size="7.7" text-anchor="start" font-weight="normal" fill="#1a1a1a" textLength="30.6" lengthAdjust="spacingAndGlyphs">Subject 1</text>
<line x1="325.2" y1="250.2" x2="334.5" y2="250.2" stroke="#5b2c86" stroke-width="1.3"/>
<path d="M327.45,248.28L332.25,248.28L329.85,252.60Z" fill="#5b2c86"/>
<text x="339.0" y="252.95" font-size="7.7" text-anchor="start" font-weight="normal" fill="#1a1a1a" textLength="31" lengthAdjust="spacingAndGlyphs">Subject 4</text>
<line x1="396.3" y1="238.6" x2="405" y2="238.6" stroke="#1f5090" stroke-width="1.3"/>
<rect x="398.25" y="236.20" width="4.8" height="4.8" fill="#1f5090"/>
<text x="410.4" y="241.35" font-size="7.7" text-anchor="start" font-weight="normal" fill="#1a1a1a" textLength="30.8" lengthAdjust="spacingAndGlyphs">Subject 2</text>
<line x1="396.3" y1="250.5" x2="405" y2="250.5" stroke="#f7941d" stroke-width="1.3"/>
<path d="M400.65,247.90L403.25,250.5L400.65,253.10L398.05,250.5Z" fill="#f7941d"/>
<text x="410.4" y="253.25" font-size="7.7" text-anchor="start" font-weight="normal" fill="#1a1a1a" textLength="30.8" lengthAdjust="spacingAndGlyphs">Subject 5</text>
<line x1="454.2" y1="238.6" x2="463.1" y2="238.6" stroke="#3dba4a" stroke-width="1.3"/>
<path d="M456.35,240.44L460.95,240.44L458.65,236.30Z" fill="#3dba4a"/>
<text x="468.5" y="241.35" font-size="7.7" text-anchor="start" font-weight="normal" fill="#1a1a1a" textLength="30.7" lengthAdjust="spacingAndGlyphs">Subject 3</text>
<line x1="454.2" y1="250.3" x2="463.1" y2="250.3" stroke="#1b6e56" stroke-width="1.3"/>
<circle cx="458.65" cy="250.30" r="2.5" fill="#fff" stroke="#1b6e56" stroke-width="1.2"/>
<text x="468.0" y="253.05" font-size="7.7" text-anchor="start" font-weight="normal" fill="#1a1a1a" textLength="30.9" lengthAdjust="spacingAndGlyphs">Subject 6</text>
<text x="21.9" y="429.6" font-size="11" text-anchor="start" font-weight="bold" fill="#1a1a1a">E</text>
<text x="81.3" y="439.4" font-size="9.6" fill="#1a1a1a" textLength="116.7" lengthAdjust="spacingAndGlyphs"><tspan font-weight="bold">AICOVI:</tspan> BNT 162b2 (n=32)</text>
<line x1="41.7" y1="443.3" x2="41.7" y2="565.0" stroke="#2e2e2e" stroke-width="1.25"/>
<line x1="38.7" y1="564.8" x2="41.7" y2="564.8" stroke="#2e2e2e" stroke-width="1.25"/>
<text x="37.8" y="567.5999999999999" font-size="8.7" text-anchor="end" font-weight="normal" fill="#1a1a1a" textLength="15.466666666666667" lengthAdjust="spacingAndGlyphs" stroke="#1a1a1a" stroke-width="0.12">0.00</text>
<line x1="38.7" y1="534.3499999999999" x2="41.7" y2="534.3499999999999" stroke="#2e2e2e" stroke-width="1.25"/>
<text x="37.8" y="537.1499999999999" font-size="8.7" text-anchor="end" font-weight="normal" fill="#1a1a1a" textLength="15.466666666666667" lengthAdjust="spacingAndGlyphs" stroke="#1a1a1a" stroke-width="0.12">0.25</text>
<line x1="38.7" y1="503.9" x2="41.7" y2="503.9" stroke="#2e2e2e" stroke-width="1.25"/>
<text x="37.8" y="506.7" font-size="8.7" text-anchor="end" font-weight="normal" fill="#1a1a1a" textLength="15.466666666666667" lengthAdjust="spacingAndGlyphs" stroke="#1a1a1a" stroke-width="0.12">0.50</text>
<line x1="38.7" y1="473.44999999999993" x2="41.7" y2="473.44999999999993" stroke="#2e2e2e" stroke-width="1.25"/>
<text x="37.8" y="476.24999999999994" font-size="8.7" text-anchor="end" font-weight="normal" fill="#1a1a1a" textLength="15.466666666666667" lengthAdjust="spacingAndGlyphs" stroke="#1a1a1a" stroke-width="0.12">0.75</text>
<line x1="38.7" y1="442.99999999999994" x2="41.7" y2="442.99999999999994" stroke="#2e2e2e" stroke-width="1.25"/>
<text x="37.8" y="445.79999999999995" font-size="8.7" text-anchor="end" font-weight="normal" fill="#1a1a1a" textLength="15.466666666666667" lengthAdjust="spacingAndGlyphs" stroke="#1a1a1a" stroke-width="0.12">1.00</text>
<text x="0" y="0" font-size="9.0" fill="#1a1a1a" text-anchor="middle" textLength="49.2" lengthAdjust="spacingAndGlyphs" stroke="#1a1a1a" stroke-width="0.15" transform="translate(12.7,505.1) rotate(-90)">Optical density</text>
<rect x="46.2" y="505" width="189.70" height="62.00" fill="#bebec2"/>
<line x1="48" y1="572.8" x2="237.4" y2="572.8" stroke="#2e2e2e" stroke-width="1.25"/>
<line x1="49.0" y1="572.8" x2="49.0" y2="575.8" stroke="#2e2e2e" stroke-width="1.25"/>
<text x="49.0" y="585.0" font-size="8.9" text-anchor="middle" font-weight="normal" fill="#1a1a1a" textLength="4.26" lengthAdjust="spacingAndGlyphs" stroke="#1a1a1a" stroke-width="0.12">0</text>
<line x1="75.355" y1="572.8" x2="75.355" y2="575.8" stroke="#2e2e2e" stroke-width="1.25"/>
<text x="75.355" y="585.0" font-size="8.9" text-anchor="middle" font-weight="normal" fill="#1a1a1a" textLength="4.26" lengthAdjust="spacingAndGlyphs" stroke="#1a1a1a" stroke-width="0.12">7</text>
<line x1="101.71000000000001" y1="572.8" x2="101.71000000000001" y2="575.8" stroke="#2e2e2e" stroke-width="1.25"/>
<text x="101.71000000000001" y="585.0" font-size="8.9" text-anchor="middle" font-weight="normal" fill="#1a1a1a" textLength="8.51" lengthAdjust="spacingAndGlyphs" stroke="#1a1a1a" stroke-width="0.12">14</text>
<line x1="128.065" y1="572.8" x2="128.065" y2="575.8" stroke="#2e2e2e" stroke-width="1.25"/>
<text x="128.065" y="585.0" font-size="8.9" text-anchor="middle" font-weight="normal" fill="#1a1a1a" textLength="8.51" lengthAdjust="spacingAndGlyphs" stroke="#1a1a1a" stroke-width="0.12">21</text>
<line x1="154.42000000000002" y1="572.8" x2="154.42000000000002" y2="575.8" stroke="#2e2e2e" stroke-width="1.25"/>
<text x="154.42000000000002" y="585.0" font-size="8.9" text-anchor="middle" font-weight="normal" fill="#1a1a1a" textLength="8.51" lengthAdjust="spacingAndGlyphs" stroke="#1a1a1a" stroke-width="0.12">28</text>
<line x1="180.775" y1="572.8" x2="180.775" y2="575.8" stroke="#2e2e2e" stroke-width="1.25"/>
<text x="180.775" y="585.0" font-size="8.9" text-anchor="middle" font-weight="normal" fill="#1a1a1a" textLength="8.51" lengthAdjust="spacingAndGlyphs" stroke="#1a1a1a" stroke-width="0.12">35</text>
<line x1="207.13" y1="572.8" x2="207.13" y2="575.8" stroke="#2e2e2e" stroke-width="1.25"/>
<text x="207.13" y="585.0" font-size="8.9" text-anchor="middle" font-weight="normal" fill="#1a1a1a" textLength="8.51" lengthAdjust="spacingAndGlyphs" stroke="#1a1a1a" stroke-width="0.12">42</text>
<line x1="233.485" y1="572.8" x2="233.485" y2="575.8" stroke="#2e2e2e" stroke-width="1.25"/>
<text x="233.485" y="585.0" font-size="8.9" text-anchor="middle" font-weight="normal" fill="#1a1a1a" textLength="8.51" lengthAdjust="spacingAndGlyphs" stroke="#1a1a1a" stroke-width="0.12">49</text>
<text x="236.5" y="593.8" font-size="9.9" text-anchor="end" font-weight="normal" fill="#1a1a1a" textLength="19.7" lengthAdjust="spacingAndGlyphs" stroke="#1a1a1a" stroke-width="0.12">Days</text>
<text x="54.4" y="453.1" font-size="7.4" text-anchor="start" font-weight="normal" fill="#1a1a1a" textLength="66.4" lengthAdjust="spacingAndGlyphs">after 1st vaccination</text>
<path d="M44.2,461.5L53.2,456.5L53.2,460.5L115.6,460.5L115.6,456.5L124.6,461.5L115.6,466.5L115.6,462.5L53.2,462.5L53.2,466.5Z" fill="#c2c2c8"/>
<text x="155" y="453.3" font-size="7.4" text-anchor="start" font-weight="normal" fill="#1a1a1a" textLength="69.7" lengthAdjust="spacingAndGlyphs">after 2nd vaccination</text>
<path d="M150,462.2L159.0,457.2L159.0,461.2L224.5,461.2L224.5,457.2L233.5,462.2L224.5,467.2L224.5,463.2L159.0,463.2L159.0,467.2Z" fill="#c2c2c8"/>
<path d="M47.10,513.48L50.90,513.48L49.00,516.90Z" fill="#c90828"/>
<path d="M73.45,487.48L77.26,487.48L75.36,490.90Z" fill="#c90828"/>
<path d="M99.81,480.48L103.61,480.48L101.71,483.90Z" fill="#c90828"/>
<path d="M152.52,474.08L156.32,474.08L154.42,477.50Z" fill="#c90828"/>
<path d="M178.88,465.88L182.68,465.88L180.78,469.30Z" fill="#c90828"/>
<path d="M205.23,469.68L209.03,469.68L207.13,473.10Z" fill="#c90828"/>
<circle cx="49.00" cy="545.20" r="2.0" fill="#c90828"/>
<circle cx="49.00" cy="546.80" r="2.0" fill="#c90828"/>
<circle cx="49.00" cy="550.60" r="2.0" fill="#c90828"/>
<circle cx="49.00" cy="552.73" r="2.0" fill="#c90828"/>
<circle cx="49.00" cy="554.87" r="2.0" fill="#c90828"/>
<circle cx="49.00" cy="557.00" r="2.0" fill="#c90828"/>
<circle cx="49.00" cy="559.13" r="2.0" fill="#c90828"/>
<circle cx="49.00" cy="561.27" r="2.0" fill="#c90828"/>
<circle cx="49.00" cy="563.40" r="2.0" fill="#c90828"/>
<circle cx="75.36" cy="539.10" r="2.0" fill="#c90828"/>
<circle cx="75.36" cy="541.20" r="2.0" fill="#c90828"/>
<circle cx="75.36" cy="546.50" r="2.0" fill="#c90828"/>
<circle cx="75.36" cy="549.20" r="2.0" fill="#c90828"/>
<circle cx="75.36" cy="553.30" r="2.0" fill="#c90828"/>
<circle cx="75.36" cy="555.44" r="2.0" fill="#c90828"/>
<circle cx="75.36" cy="557.58" r="2.0" fill="#c90828"/>
<circle cx="75.36" cy="559.72" r="2.0" fill="#c90828"/>
<circle cx="75.36" cy="561.86" r="2.0" fill="#c90828"/>
<circle cx="75.36" cy="564.00" r="2.0" fill="#c90828"/>
<circle cx="101.71" cy="532.40" r="2.0" fill="#c90828"/>
<circle cx="101.71" cy="537.80" r="2.0" fill="#c90828"/>
<circle cx="101.71" cy="544.10" r="2.0" fill="#c90828"/>
<circle cx="101.71" cy="546.34" r="2.0" fill="#c90828"/>
<circle cx="101.71" cy="548.58" r="2.0" fill="#c90828"/>
<circle cx="101.71" cy="550.81" r="2.0" fill="#c90828"/>
<circle cx="101.71" cy="553.05" r="2.0" fill="#c90828"/>
<circle cx="101.71" cy="555.29" r="2.0" fill="#c90828"/>
<circle cx="101.71" cy="557.52" r="2.0" fill="#c90828"/>
<circle cx="101.71" cy="559.76" r="2.0" fill="#c90828"/>
<circle cx="101.71" cy="562.00" r="2.0" fill="#c90828"/>
<circle cx="154.42" cy="530.00" r="2.0" fill="#c90828"/>
<circle cx="154.42" cy="535.40" r="2.0" fill="#c90828"/>
<circle cx="154.42" cy="539.20" r="2.0" fill="#c90828"/>
<circle cx="154.42" cy="543.10" r="2.0" fill="#c90828"/>
<circle cx="154.42" cy="547.00" r="2.0" fill="#c90828"/>
<circle cx="154.42" cy="550.80" r="2.0" fill="#c90828"/>
<circle cx="154.42" cy="552.30" r="2.0" fill="#c90828"/>
<circle cx="154.42" cy="554.42" r="2.0" fill="#c90828"/>
<circle cx="154.42" cy="556.55" r="2.0" fill="#c90828"/>
<circle cx="154.42" cy="558.67" r="2.0" fill="#c90828"/>
<circle cx="154.42" cy="560.80" r="2.0" fill="#c90828"/>
<circle cx="180.78" cy="530.80" r="2.0" fill="#c90828"/>
<circle cx="180.78" cy="536.90" r="2.0" fill="#c90828"/>
<circle cx="180.78" cy="539.03" r="2.0" fill="#c90828"/>
<circle cx="180.78" cy="541.15" r="2.0" fill="#c90828"/>
<circle cx="180.78" cy="543.28" r="2.0" fill="#c90828"/>
<circle cx="180.78" cy="545.41" r="2.0" fill="#c90828"/>
<circle cx="180.78" cy="547.54" r="2.0" fill="#c90828"/>
<circle cx="180.78" cy="549.66" r="2.0" fill="#c90828"/>
<circle cx="180.78" cy="551.79" r="2.0" fill="#c90828"/>
<circle cx="180.78" cy="553.92" r="2.0" fill="#c90828"/>
<circle cx="180.78" cy="556.05" r="2.0" fill="#c90828"/>
<circle cx="180.78" cy="558.17" r="2.0" fill="#c90828"/>
<circle cx="180.78" cy="560.30" r="2.0" fill="#c90828"/>
<circle cx="207.13" cy="528.50" r="2.0" fill="#c90828"/>
<circle cx="207.13" cy="533.10" r="2.0" fill="#c90828"/>
<circle cx="207.13" cy="539.20" r="2.0" fill="#c90828"/>
<circle cx="207.13" cy="540.80" r="2.0" fill="#c90828"/>
<circle cx="207.13" cy="545.40" r="2.0" fill="#c90828"/>
<circle cx="207.13" cy="547.49" r="2.0" fill="#c90828"/>
<circle cx="207.13" cy="549.57" r="2.0" fill="#c90828"/>
<circle cx="207.13" cy="551.66" r="2.0" fill="#c90828"/>
<circle cx="207.13" cy="553.74" r="2.0" fill="#c90828"/>
<circle cx="207.13" cy="555.83" r="2.0" fill="#c90828"/>
<circle cx="207.13" cy="557.91" r="2.0" fill="#c90828"/>
<circle cx="207.13" cy="560.00" r="2.0" fill="#c90828"/>
<text x="274.4" y="430.8" font-size="11" text-anchor="start" font-weight="bold" fill="#1a1a1a">F</text>
<text x="339.0" y="437.9" font-size="9.6" fill="#1a1a1a" textLength="151.1" lengthAdjust="spacingAndGlyphs"><tspan font-weight="bold">AICOVI:</tspan> ChADOX1 nCov-19 (n=15)</text>
<line x1="315.5" y1="444.6" x2="315.5" y2="560.1" stroke="#2e2e2e" stroke-width="1.25"/>
<line x1="312.5" y1="560.1" x2="315.5" y2="560.1" stroke="#2e2e2e" stroke-width="1.25"/>
<text x="311.8" y="562.9" font-size="8.7" text-anchor="end" font-weight="normal" fill="#1a1a1a" textLength="14.799999999999999" lengthAdjust="spacingAndGlyphs" stroke="#1a1a1a" stroke-width="0.12">0.00</text>
<line x1="312.5" y1="531.2" x2="315.5" y2="531.2" stroke="#2e2e2e" stroke-width="1.25"/>
<text x="311.8" y="534.0" font-size="8.7" text-anchor="end" font-weight="normal" fill="#1a1a1a" textLength="14.799999999999999" lengthAdjust="spacingAndGlyphs" stroke="#1a1a1a" stroke-width="0.12">0.25</text>
<line x1="312.5" y1="502.3" x2="315.5" y2="502.3" stroke="#2e2e2e" stroke-width="1.25"/>
<text x="311.8" y="505.1" font-size="8.7" text-anchor="end" font-weight="normal" fill="#1a1a1a" textLength="14.799999999999999" lengthAdjust="spacingAndGlyphs" stroke="#1a1a1a" stroke-width="0.12">0.50</text>
<line x1="312.5" y1="473.40000000000003" x2="315.5" y2="473.40000000000003" stroke="#2e2e2e" stroke-width="1.25"/>
<text x="311.8" y="476.20000000000005" font-size="8.7" text-anchor="end" font-weight="normal" fill="#1a1a1a" textLength="14.799999999999999" lengthAdjust="spacingAndGlyphs" stroke="#1a1a1a" stroke-width="0.12">0.75</text>
<line x1="312.5" y1="444.5" x2="315.5" y2="444.5" stroke="#2e2e2e" stroke-width="1.25"/>
<text x="311.8" y="447.3" font-size="8.7" text-anchor="end" font-weight="normal" fill="#1a1a1a" textLength="14.799999999999999" lengthAdjust="spacingAndGlyphs" stroke="#1a1a1a" stroke-width="0.12">1.00</text>
<text x="0" y="0" font-size="9.0" fill="#1a1a1a" text-anchor="middle" textLength="49.9" lengthAdjust="spacingAndGlyphs" stroke="#1a1a1a" stroke-width="0.15" transform="translate(287.0,508.05) rotate(-90)">Optical density</text>
<rect x="326.9" y="502.9" width="179.10" height="61.70" fill="#bebec2"/>
<line x1="327.9" y1="573.3" x2="508.4" y2="573.3" stroke="#2e2e2e" stroke-width="1.25"/>
<line x1="328.7" y1="573.3" x2="328.7" y2="576.3" stroke="#2e2e2e" stroke-width="1.25"/>
<text x="328.7" y="585.0" font-size="8.9" text-anchor="middle" font-weight="normal" fill="#1a1a1a" textLength="4.26" lengthAdjust="spacingAndGlyphs" stroke="#1a1a1a" stroke-width="0.12">0</text>
<line x1="412.49" y1="573.3" x2="412.49" y2="576.3" stroke="#2e2e2e" stroke-width="1.25"/>
<text x="412.49" y="585.0" font-size="8.9" text-anchor="middle" font-weight="normal" fill="#1a1a1a" textLength="4.26" lengthAdjust="spacingAndGlyphs" stroke="#1a1a1a" stroke-width="0.12">7</text>
<line x1="496.28" y1="573.3" x2="496.28" y2="576.3" stroke="#2e2e2e" stroke-width="1.25"/>
<text x="496.28" y="585.0" font-size="8.9" text-anchor="middle" font-weight="normal" fill="#1a1a1a" textLength="8.51" lengthAdjust="spacingAndGlyphs" stroke="#1a1a1a" stroke-width="0.12">14</text>
<text x="509.2" y="594.9" font-size="9.9" text-anchor="end" font-weight="normal" fill="#1a1a1a" textLength="20.2" lengthAdjust="spacingAndGlyphs" stroke="#1a1a1a" stroke-width="0.12">Days</text>
<path d="M326.30,500.62L331.10,500.62L328.70,496.30Z" fill="#c90828"/>
<path d="M410.09,492.82L414.89,492.82L412.49,488.50Z" fill="#c90828"/>
<path d="M493.88,486.42L498.68,486.42L496.28,482.10Z" fill="#c90828"/>
<circle cx="328.70" cy="532.60" r="2.6" fill="#c90828"/>
<circle cx="328.70" cy="543.90" r="2.6" fill="#c90828"/>
<circle cx="328.70" cy="547.40" r="2.6" fill="#c90828"/>
<circle cx="328.70" cy="550.60" r="2.6" fill="#c90828"/>
<circle cx="328.70" cy="554.10" r="2.6" fill="#c90828"/>
<circle cx="328.70" cy="557.40" r="2.6" fill="#c90828"/>
<circle cx="412.49" cy="533.50" r="2.6" fill="#c90828"/>
<circle cx="412.49" cy="539.40" r="2.6" fill="#c90828"/>
<circle cx="412.49" cy="541.64" r="2.6" fill="#c90828"/>
<circle cx="412.49" cy="543.88" r="2.6" fill="#c90828"/>
<circle cx="412.49" cy="546.11" r="2.6" fill="#c90828"/>
<circle cx="412.49" cy="548.35" r="2.6" fill="#c90828"/>
<circle cx="412.49" cy="550.59" r="2.6" fill="#c90828"/>
<circle cx="412.49" cy="552.82" r="2.6" fill="#c90828"/>
<circle cx="412.49" cy="555.06" r="2.6" fill="#c90828"/>
<circle cx="412.49" cy="557.30" r="2.6" fill="#c90828"/>
<circle cx="496.28" cy="531.20" r="2.6" fill="#c90828"/>
<circle cx="496.28" cy="533.20" r="2.6" fill="#c90828"/>
<circle cx="496.28" cy="546.20" r="2.6" fill="#c90828"/>
<circle cx="496.28" cy="548.80" r="2.6" fill="#c90828"/>
<rect x="0" y="0" width="520" height="1.25" fill="#000"/><rect x="0" y="0" width="1.25" height="609" fill="#000"/><rect x="518.75" y="0" width="1.25" height="609" fill="#000"/><rect x="0" y="607.6" width="520" height="1.4" fill="#000"/>
</svg>
</body></html>
